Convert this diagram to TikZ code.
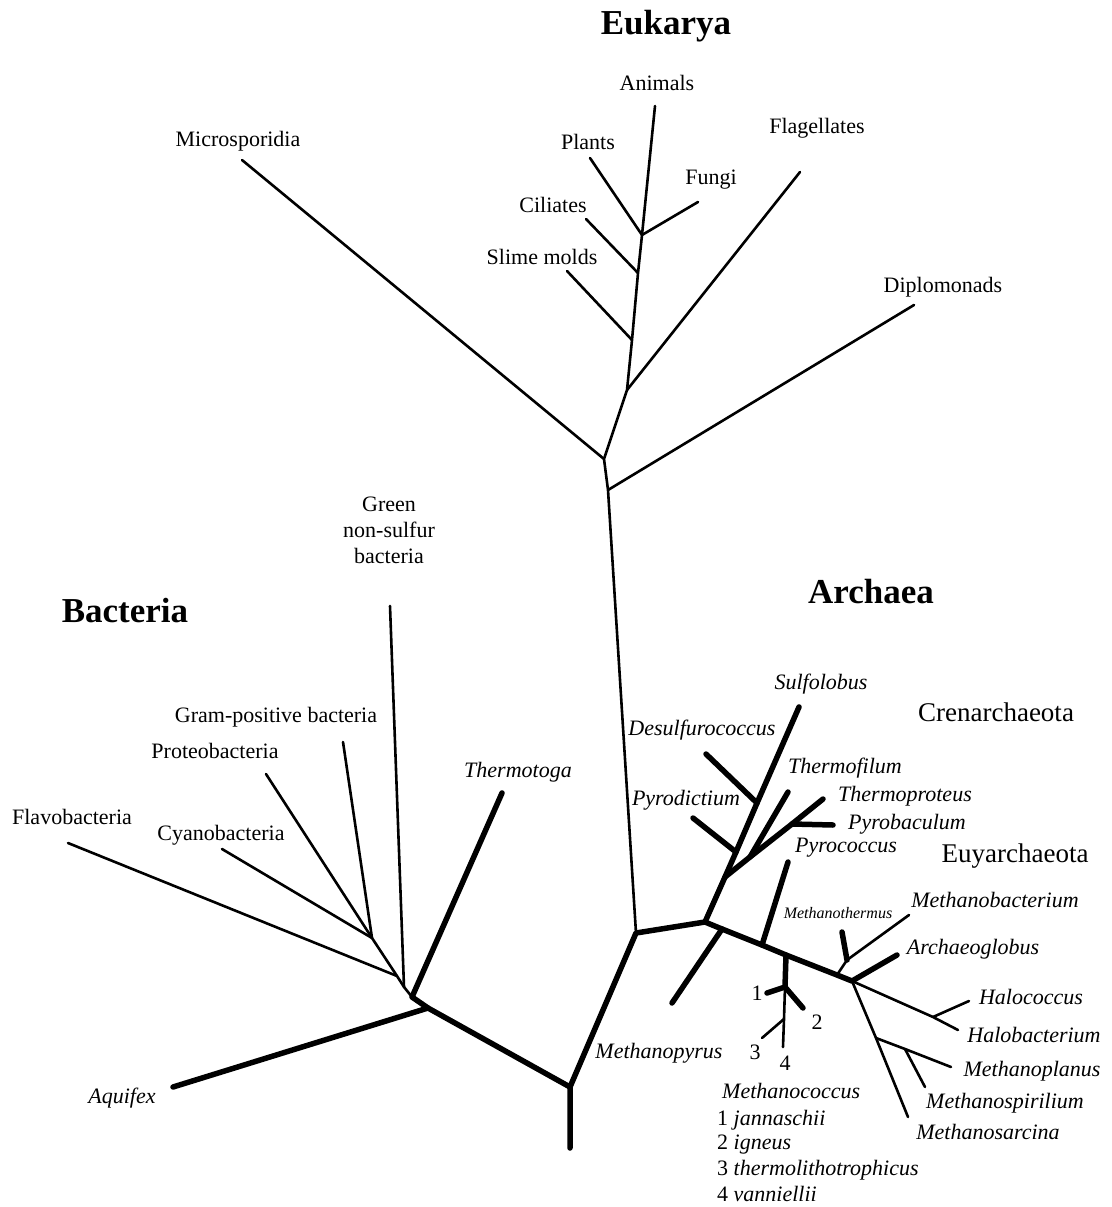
\documentclass[tikz,border=0pt]{standalone}
\usepackage{fontspec}
\setmainfont{Liberation Serif}
\usetikzlibrary{positioning}

\begin{document}
\begin{tikzpicture}[x=1pt,y=-1pt,
  twig/.style={line width=2.6pt, line cap=round, line join=round},
  limb/.style={line width=5.5pt, line cap=round, line join=round},
  taxon/.style={font=\fontsize{22}{26}\selectfont, inner sep=0pt},
  genus/.style={font=\fontsize{22}{26}\selectfont\itshape, inner sep=0pt},
  realm/.style={font=\fontsize{35}{40}\selectfont\bfseries, inner sep=0pt},
  phylum/.style={font=\fontsize{27}{32}\selectfont, inner sep=0pt}]
\useasboundingbox (0,0) rectangle (1111,1207);

% Branch points and tips
\foreach \n/\x/\y in {root/570/1148, r1/570/1087, r2/636/933,
    bac/428/1008, b2/412/997, b3/404/987, b4/397/976, b5/372/938,
    e1/604/459, e2/608/490, e3/627/390, es/632/340, ec/638/273, ep/642/235,
    a1/705/922, c1/757/803, c2/736/852, c3/725/877, c4/750/857, c5/792/824,
    m1/722/929, m2/762/945, m3/786/955, m4/837/975, a3/852/981,
    k1/785/987, k2/784/1019, k3/847/960, h1/933/1017, s1/876/1038, s2/905/1049}
  \coordinate (\n) at (\x,\y);
\foreach \n/\x/\y in {tAquifex/173/1087, tThermotoga/502/793, tGreen/390/606,
    tFlavo/68/843, tCyano/222/849, tProteo/266/774, tGram/343/742,
    tAnimals/655/106, tPlants/590/158, tFungi/698/202, tCiliates/586/219,
    tSlime/567/271, tFlagell/800/172, tMicro/242/160, tDiplo/914/305,
    tSulfo/799/707, tDesulf/706/754, tPyrodict/693/818, tThermofil/788/792,
    tThermoprot/823/799, tPyrobac/833/825, tPyrococ/788/862, tMpyrus/672/1003,
    tOne/767/993, tTwo/803/1008, tThree/762/1038, tFour/783/1047,
    tMbact/909/915, tMtherm/842/932, tAglob/897/955, tHcoccus/969/1001,
    tHbact/958/1030, tMplan/951/1067, tMspir/925/1087, tMsarc/908/1117}
  \coordinate (\n) at (\x,\y);

% Backbone
\draw[limb] (root) -- (r1) -- (r2) -- (a1);
\draw[limb] (r1) -- (bac) -- (tAquifex);
\draw[limb] (bac) -- (b2) -- (tThermotoga);

% Bacteria
\draw[twig] (b2) -- (b3) -- (b4) -- (b5) -- (tProteo);
\draw[twig] (b3) -- (tGreen);
\draw[twig] (b4) -- (tFlavo);
\draw[twig] (b5) -- (tCyano);
\draw[twig] (b5) -- (tGram);

% Eukarya
\draw[twig] (r2) -- (e2) -- (e1) -- (e3) -- (es) -- (ec) -- (ep) -- (tAnimals);
\draw[twig] (e2) -- (tDiplo);
\draw[twig] (e1) -- (tMicro);
\draw[twig] (e3) -- (tFlagell);
\draw[twig] (es) -- (tSlime);
\draw[twig] (ec) -- (tCiliates);
\draw[twig] (ep) -- (tPlants);
\draw[twig] (ep) -- (tFungi);

% Archaea: Crenarchaeota
\draw[limb] (a1) -- (c3) -- (c2) -- (c1) -- (tSulfo);
\draw[limb] (c1) -- (tDesulf);
\draw[limb] (c2) -- (tPyrodict);
\draw[limb] (c3) -- (c4) -- (c5) -- (tThermoprot);
\draw[limb] (c4) -- (tThermofil);
\draw[limb] (c5) -- (tPyrobac);

% Archaea: Euryarchaeota
\draw[limb] (a1) -- (m1) -- (m2) -- (m3) -- (m4) -- (a3) -- (tAglob);
\draw[limb] (m1) -- (tMpyrus);
\draw[limb] (m2) -- (tPyrococ);
\draw[limb] (m3) -- (k1) -- (tOne);
\draw[limb] (k1) -- (tTwo);
\draw[twig] (k1) -- (k2) -- (tFour);
\draw[twig] (k2) -- (tThree);
\draw[twig] (m4) -- (k3) -- (tMbact);
\draw[limb] (k3) -- (tMtherm);
\draw[twig] (a3) -- (h1) -- (tHbact);
\draw[twig] (h1) -- (tHcoccus);
\draw[twig] (a3) -- (s1) -- (tMsarc);
\draw[twig] (s1) -- (s2) -- (tMplan);
\draw[twig] (s2) -- (tMspir);

% Domain titles
\node[realm] (dEuk) at (666,26) {Eukarya};
\node[realm] (dBac) at (125,611) {Bacteria};
\node[realm] (dArc) at (871,592) {Archaea};
\node[phylum] (pCren) at (996,712) {Crenarchaeota};
\node[phylum] (pEury) at (1015,856) {Euyarchaeota};

% Eukarya labels
\node[taxon] (lAnimals) at (657,83) {Animals};
\node[taxon] (lPlants) at (588,142) {Plants};
\node[taxon] (lFungi) at (711,180) {Fungi};
\node[taxon] (lCiliates) at (553,205) {Ciliates};
\node[taxon] (lSlime) at (542,257) {Slime molds};
\node[taxon] (lFlagell) at (817,128) {Flagellates};
\node[taxon] (lMicro) at (238,141) {Microsporidia};
\node[taxon] (lDiplo) at (943,287) {Diplomonads};

% Bacteria labels
\node[taxon, align=center] (lGreen) at (389,530) {Green\\non-sulfur\\bacteria};
\node[taxon] (lGram) at (276,717) {Gram-positive bacteria};
\node[taxon] (lProteo) at (215,751) {Proteobacteria};
\node[taxon] (lFlavo) at (72,817) {Flavobacteria};
\node[taxon] (lCyano) at (221,835) {Cyanobacteria};
\node[genus] (lThermotoga) at (518,772) {Thermotoga};
\node[genus] (lAquifex) at (122,1098) {Aquifex};

% Archaea labels
\node[genus] (lSulfo) at (821,684) {Sulfolobus};
\node[genus] (lDesulf) at (702,730) {Desulfurococcus};
\node[genus] (lPyrodict) at (686,800) {Pyrodictium};
\node[genus] (lThermofil) at (845,768) {Thermofilum};
\node[genus] (lThermoprot) at (905,796) {Thermoproteus};
\node[genus] (lPyrobac) at (907,824) {Pyrobaculum};
\node[genus] (lPyrococ) at (846,848) {Pyrococcus};
\node[genus] (lMpyrus) at (659,1053) {Methanopyrus};
\node[genus, font=\fontsize{16}{18}\selectfont\itshape] (lMtherm) at (838,913) {Methanothermus};
\node[genus] (lMbact) at (995,900) {Methanobacterium};
\node[genus] (lAglob) at (973,949) {Archaeoglobus};
\node[genus] (lHcoccus) at (1031,997) {Halococcus};
\node[genus] (lHbact) at (1034,1035) {Halobacterium};
\node[genus] (lMplan) at (1032,1071) {Methanoplanus};
\node[genus] (lMspir) at (1005,1103) {Methanospirilium};
\node[genus] (lMsarc) at (988,1132) {Methanosarcina};

% Methanococcus species
\node[taxon] (nOne) at (757,993) {1};
\node[taxon] (nTwo) at (817,1022) {2};
\node[taxon] (nThree) at (755,1052) {3};
\node[taxon] (nFour) at (785,1063) {4};
\node[genus, anchor=west] (lMcoccus) at (722,1091) {Methanococcus};
\node[taxon, anchor=west] (sOne) at (717,1120) {1 \textit{jannaschii}};
\node[taxon, anchor=west] (sTwo) at (717,1145) {2 \textit{igneus}};
\node[taxon, anchor=west] (sThree) at (717,1170) {3 \textit{thermolithotrophicus}};
\node[taxon, anchor=west] (sFour) at (717,1194) {4 \textit{vanniellii}};
\end{tikzpicture}
\end{document}
